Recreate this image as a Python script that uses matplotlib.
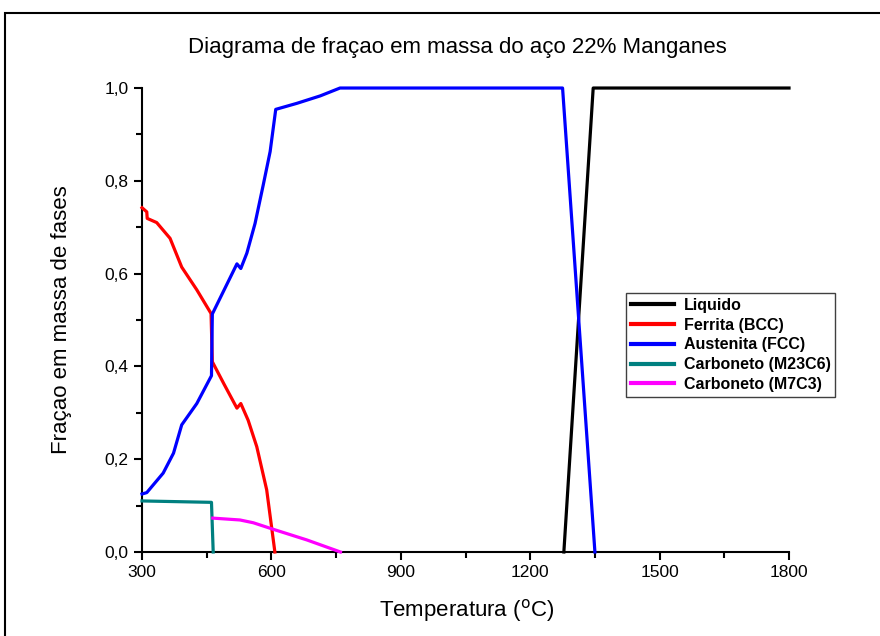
import matplotlib.pyplot as plt
from matplotlib.patches import Rectangle
from matplotlib.ticker import MultipleLocator, FuncFormatter

plt.rcParams['font.family'] = ['Liberation Sans', 'DejaVu Sans']

# fração em massa de cada fase x temperatura (°C)
t_liquido = [1278, 1346, 1800]
f_liquido = [0.0, 1.0, 1.0]

t_ferrita = [300, 311, 312, 334, 365, 392, 427, 460, 463, 490, 520, 529, 546, 566, 589, 608]
f_ferrita = [0.742, 0.733, 0.719, 0.710, 0.676, 0.614, 0.565, 0.514, 0.410, 0.362, 0.310, 0.320,
             0.284, 0.227, 0.134, 0.0]

t_austenita = [300, 311, 349, 373, 392, 427, 461, 463, 520, 529, 543, 562, 581, 597, 610,
               659, 713, 759, 1275, 1350]
f_austenita = [0.125, 0.128, 0.170, 0.213, 0.274, 0.320, 0.380, 0.513, 0.621, 0.611, 0.644,
               0.708, 0.791, 0.863, 0.954, 0.967, 0.983, 1.0, 1.0, 0.0]

t_m23c6 = [300, 461, 465]
f_m23c6 = [0.110, 0.107, 0.0]

t_m7c3 = [464, 527, 558, 604, 682, 760]
f_m7c3 = [0.073, 0.069, 0.063, 0.049, 0.026, 0.0]

series = [
    ('Liquido', t_liquido, f_liquido, 'black'),
    ('Ferrita (BCC)', t_ferrita, f_ferrita, '#ff0000'),
    ('Austenita (FCC)', t_austenita, f_austenita, '#0000ff'),
    ('Carboneto (M23C6)', t_m23c6, f_m23c6, '#008080'),
    ('Carboneto (M7C3)', t_m7c3, f_m7c3, '#ff00ff'),
]

fig = plt.figure(figsize=(8.8, 6.36), dpi=100)
ax = fig.add_axes([0.1614, 0.1321, 0.7352, 0.7295])

for nome, t, f, cor in series:
    ax.plot(t, f, color=cor, lw=2.3, label=nome, clip_on=False, zorder=3)

ax.set_xlim(300, 1800)
ax.set_ylim(0, 1.0)
ax.xaxis.set_major_locator(MultipleLocator(300))
ax.xaxis.set_minor_locator(MultipleLocator(150))
ax.yaxis.set_major_locator(MultipleLocator(0.2))
ax.yaxis.set_minor_locator(MultipleLocator(0.1))
# vírgula como separador decimal
ax.yaxis.set_major_formatter(FuncFormatter(lambda v, p: f'{v:.1f}'.replace('.', ',')))

ax.spines['top'].set_visible(False)
ax.spines['right'].set_visible(False)
for s in ('left', 'bottom'):
    ax.spines[s].set_linewidth(1.5)
ax.tick_params(which='major', direction='out', length=6, width=1.5, labelsize=12.5)
ax.tick_params(which='minor', direction='out', length=4, width=1.5)

fig.text(0.52, 1 - 47 / 636, 'Diagrama de fraçao em massa do aço 22% Manganes',
         ha='center', va='center', fontsize=16)
fig.text(467 / 880, 1 - 610 / 636, r'Temperatura ($^{\mathrm{o}}$C)',
         ha='center', va='center', fontsize=16)
fig.text(62 / 880, 1 - 320 / 636, 'Fraçao em massa de fases',
         ha='center', va='center', rotation=90, fontsize=16)

leg = ax.legend(loc='upper left', bbox_to_anchor=(626 / 880, 1 - 293 / 636),
                bbox_transform=fig.transFigure, borderaxespad=0, fancybox=False,
                framealpha=1, edgecolor='#404040', handlelength=2.7, labelspacing=0.3,
                prop={'weight': 'bold', 'size': 11.5}, borderpad=0.3, handletextpad=0.6)
leg.get_frame().set_linewidth(1.0)
for linha in leg.get_lines():
    linha.set_linewidth(3)

# moldura externa
fig.add_artist(Rectangle((5 / 880, -0.1), 2, 1 - 13 / 636 + 0.1, transform=fig.transFigure,
                         fill=False, lw=1.5, edgecolor='black'))

fig.savefig('out.png', dpi=100)
